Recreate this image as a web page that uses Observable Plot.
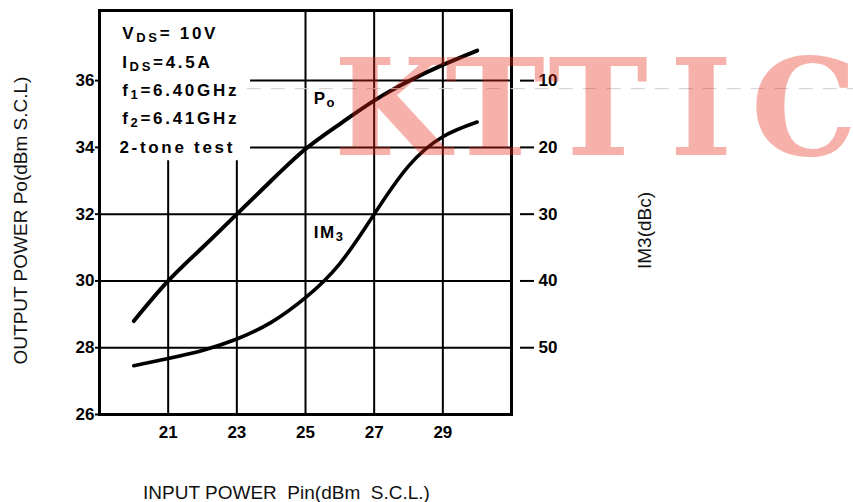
<!DOCTYPE html>
<html><head><meta charset="utf-8">
<script src="https://cdn.jsdelivr.net/npm/d3@7"></script>
<script src="https://cdn.jsdelivr.net/npm/@observablehq/plot@0.6"></script>
<style>
body{margin:0;background:#fff;}
svg text{white-space:pre;}
</style>
</head><body><div id="chart"></div>
<script>
// Data
const pin = [20, 21, 22, 23, 24, 25, 26, 27, 28, 29, 30];
const po = [28.8, 30.0, 31.0, 32.0, 33.0, 33.95, 34.7, 35.4, 35.98, 36.47, 36.9];
const im3 = [-52.7, -51.6, -50.4, -48.7, -46.2, -42.5, -37.4, -30.0, -22.8, -18.4, -16.2];
const xTicks = [21, 23, 25, 27, 29];
const poTicks = [26, 28, 30, 32, 34, 36];
const im3Ticks = [-10, -20, -30, -40, -50];
const conditions = [["V", "DS", "= 10V"], ["I", "DS", "=4.5A"], ["f", "1", "=6.40GHz"], ["f", "2", "=6.41GHz"], ["2-tone test", "", ""]];
const conditionX = [19.66, 19.66, 19.66, 19.66, 19.58];
const conditionY = [37.41, 36.54, 35.7, 34.86, 34.0];
const curveLabels = [["P", "o"], ["IM", "3"]];
const curveLabelX = [25.24, 25.24];
const curveLabelY = [35.46, 31.46];
const xTitle = "INPUT POWER  Pin(dBm  S.C.L.)";
const yTitle = "OUTPUT POWER Po(dBm S.C.L)";
const y2Title = "IM3(dBc)";
const watermarkLetters = ["K", "T", "T", "I", "C"];

// IM3 right axis: -10 dBc at Po 36, 10 dBc per 2 dBm
const im3ToPo = v => (v + 190) / 5;

const poData = pin.map((x, i) => ({x, y: po[i]}));
const imData = pin.map((x, i) => ({x, y: im3ToPo(im3[i])}));
const condData = conditions.map((parts, i) => ({parts, x: conditionX[i], y: conditionY[i]}));
const curveData = curveLabels.map((parts, i) => ({parts, x: curveLabelX[i], y: curveLabelY[i]}));

const plot = Plot.plot({
  width: 853,
  height: 502,
  marginLeft: 99,
  marginRight: 342,
  marginTop: 10,
  marginBottom: 88,
  style: {fontFamily: "'Liberation Sans', Arial, sans-serif", fontSize: "17px", fontWeight: "bold", color: "#000", background: "#fff"},
  x: {domain: [19, 31]},
  y: {domain: [26, 38.1]},
  marks: [
    Plot.ruleX([25, 27, 29], {stroke: "#000", strokeWidth: 2}),
    Plot.ruleX([21, 23], {y1: 26, y2: 33.6, stroke: "#000", strokeWidth: 2}),
    Plot.ruleY([28, 30, 32], {stroke: "#000", strokeWidth: 2}),
    Plot.ruleY([34, 36], {x1: 23.4, x2: 31, stroke: "#000", strokeWidth: 2}),
    Plot.frame({stroke: "#000", strokeWidth: 3}),
    Plot.axisY(poTicks, {anchor: "left", tickSize: 4, tickPadding: 1, strokeWidth: 2, label: null}),
    Plot.axisY(im3Ticks.map(im3ToPo), {anchor: "right", tickSize: 14, tickPadding: 5, dx: 8, strokeWidth: 2,
      tickFormat: p => String(Math.abs(Math.round(5 * p - 190))), label: null}),
    Plot.axisX(xTicks, {anchor: "bottom", tickSize: 0, tickPadding: 11, label: null}),
    Plot.line(poData, {x: "x", y: "y", curve: "natural", stroke: "#000", strokeWidth: 4}),
    Plot.line(imData, {x: "x", y: "y", curve: "natural", stroke: "#000", strokeWidth: 3.6}),
    Plot.text(condData, {x: "x", y: "y", text: d => d.parts.join(""), textAnchor: "start", fontSize: 17}),
    Plot.text(curveData, {x: "x", y: "y", text: d => d.parts.join(""), textAnchor: "start", fontSize: 17}),
    Plot.text([yTitle], {frameAnchor: "left", dx: -79, dy: 8, rotate: -90, textAnchor: "middle", lineAnchor: "middle", fontSize: 19, fontWeight: "normal", fill: "#111"}),
    Plot.text([y2Title], {frameAnchor: "right", dx: 133, dy: 18, rotate: -90, textAnchor: "middle", lineAnchor: "middle", fontSize: 19, fontWeight: "normal", fill: "#111"}),
    Plot.text([xTitle], {frameAnchor: "bottom", dx: -19, dy: 78, textAnchor: "middle", lineAnchor: "middle", fontSize: 19, fontWeight: "normal", fill: "#111"}),
    Plot.ruleY([35.76], {x1: 23.3, x2: 41, stroke: "#cfcfcf", strokeWidth: 1, strokeDasharray: "14,10"})
  ]
});

// rich text with subscripts
function rich(data, subSize, shift, spacing) {
  const texts = d3.select(plot).selectAll("text").nodes();
  data.forEach(d => {
    const full = d.parts.join("");
    const node = texts.find(n => n.textContent === full && !n.__rich);
    if (!node) return;
    node.__rich = true;
    const t = d3.select(node);
    t.text(null).style("letter-spacing", spacing + "px");
    t.append("tspan").text(d.parts[0]);
    if (d.parts[1]) t.append("tspan").attr("dy", shift).style("font-size", subSize + "px").text(d.parts[1]);
    if (d.parts[2]) t.append("tspan").attr("dy", -shift).style("font-size", "17px").text(d.parts[2]);
  });
}
rich(condData, 13, 3, 2.7);
rich(curveData, 13, 3, 1.5);

// watermark drawn on top (monospaced letter pitch)
const wm = d3.select(plot).append("text")
  .style("text-anchor", "middle")
  .style("font-family", "'DejaVu Serif', serif")
  .style("font-weight", "bold")
  .style("font-size", "134px")
  .style("fill", "rgb(230,40,20)")
  .style("fill-opacity", 0.36);
watermarkLetters.forEach((ch, i) => {
  wm.append("tspan").attr("x", 392 + i * 103).attr("y", 155).text(ch);
});

document.getElementById("chart").append(plot);
</script>
</body></html>
